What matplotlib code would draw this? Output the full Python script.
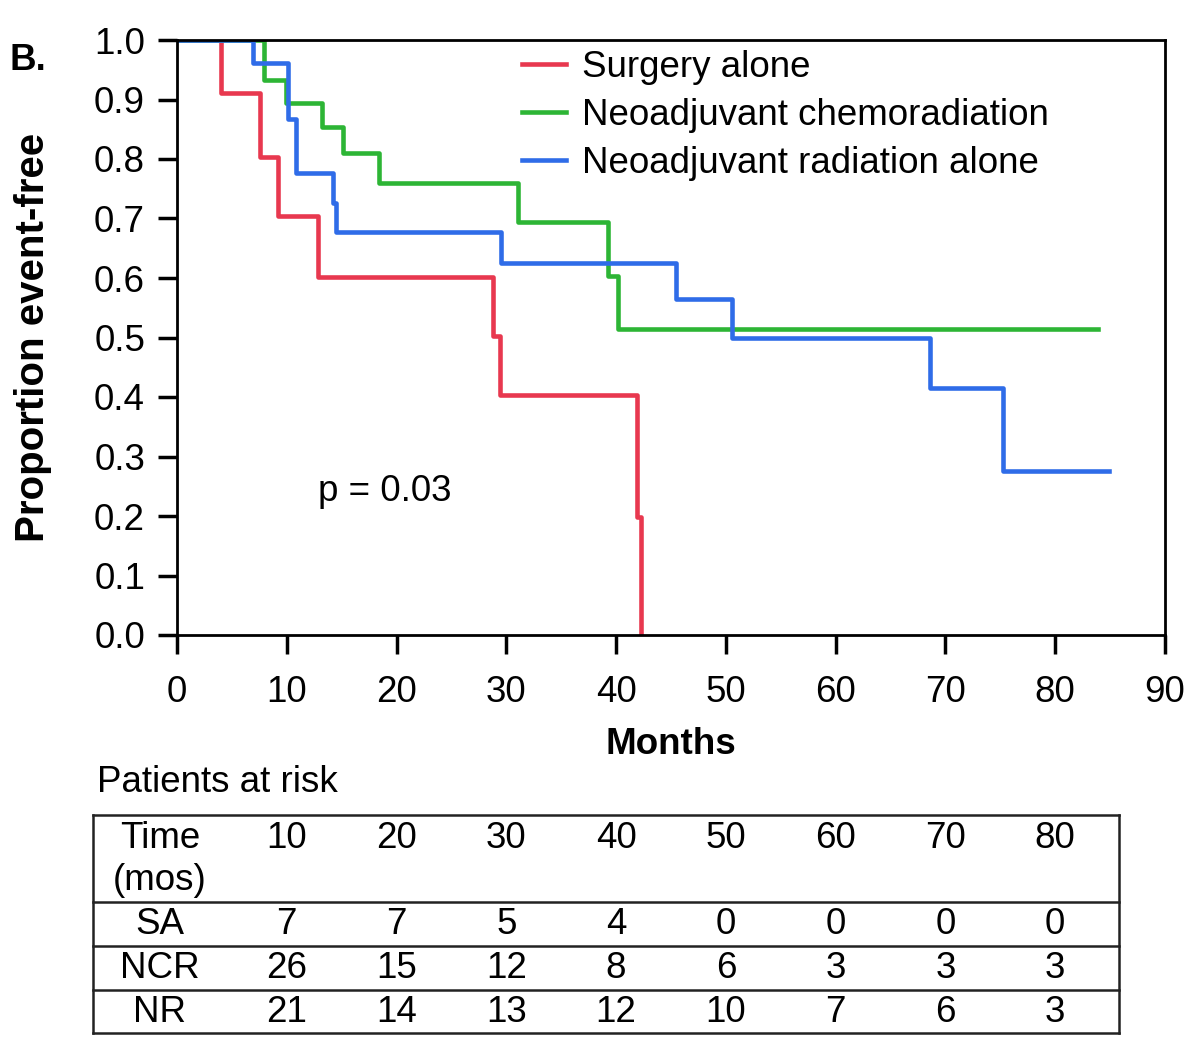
import numpy as np
import matplotlib.pyplot as plt
import matplotlib.transforms as mtransforms

plt.rcParams['font.family'] = ['Liberation Sans', 'DejaVu Sans']

# --- Kaplan-Meier steps (months, proportion event-free) ---
sa_t = [0, 4.0, 7.6, 9.2, 12.8, 28.8, 29.4, 41.9, 42.3]
sa_s = [1.0, 0.911, 0.803, 0.704, 0.602, 0.502, 0.403, 0.199, 0.0]

ncr_t = [0, 7.9, 9.9, 13.2, 15.1, 18.4, 31.1, 39.3, 40.2, 83.9]
ncr_s = [1.0, 0.933, 0.894, 0.854, 0.810, 0.760, 0.694, 0.603, 0.514, 0.514]

nr_t = [0, 6.9, 10.1, 10.8, 14.2, 14.5, 29.5, 45.5, 50.6, 68.6, 75.2, 84.9]
nr_s = [1.0, 0.962, 0.867, 0.776, 0.726, 0.677, 0.625, 0.565, 0.499, 0.415, 0.276, 0.276]

labels = ["Surgery alone", "Neoadjuvant chemoradiation", "Neoadjuvant radiation alone"]
colors = ["#e8384f", "#2db535", "#2f6ce8"]

# --- patients at risk table ---
risk_times = [10, 20, 30, 40, 50, 60, 70, 80]
risk_groups = ["SA", "NCR", "NR"]
risk_sa = [7, 7, 5, 4, 0, 0, 0, 0]
risk_ncr = [26, 15, 12, 8, 6, 3, 3, 3]
risk_nr = [21, 14, 13, 12, 10, 7, 6, 3]

W, H = 1200, 1063
fig = plt.figure(figsize=(W / 100, H / 100), dpi=100)
ax = fig.add_axes([177 / W, 1 - 635 / H, (1165 - 177) / W, (635 - 40) / H])

FS = 26.5
for t, s, c, lab in zip([sa_t, ncr_t, nr_t], [sa_s, ncr_s, nr_s], colors, labels):
    ax.step(t, s, where='post', color=c, lw=3.3, label=lab)

ax.set_xlim(0, 90)
ax.set_ylim(0, 1.0)
ax.set_xticks(np.arange(0, 91, 10))
ax.set_yticks(np.arange(0, 1.01, 0.1))
ax.yaxis.set_major_formatter(plt.FormatStrFormatter('%.1f'))
ax.tick_params(direction='out', length=14, width=2.5, labelsize=FS, pad=9)
ax.tick_params(axis='x', pad=15)
for sp in ax.spines.values():
    sp.set_linewidth(2)

ax.set_xlabel("Months", fontsize=FS, fontweight='bold', labelpad=12)
ax.set_ylabel("Proportion event-free", fontsize=29, fontweight='bold', labelpad=30)

ax.legend(loc='upper left', bbox_to_anchor=(522 / W, 1 - 50 / H),
          bbox_transform=fig.transFigure, frameon=False, fontsize=FS,
          handlelength=1.2, handletextpad=0.42, labelspacing=0.35,
          borderpad=0, borderaxespad=0)

ax.text(12.8, 0.242, "p = 0.03", fontsize=FS, ha='left', va='center')

fig.text(10 / W, 1 - 60 / H, "B.", fontsize=FS, fontweight='bold', ha='left', va='center')

# --- risk table: x in data coords of the main axes, y in figure pixels ---
tr = mtransforms.blended_transform_factory(ax.transData, fig.transFigure)

def fy(py):
    return 1 - py / H

fig.text(97 / W, fy(783), "Patients at risk", fontsize=FS, ha='left', va='center')

x_left, x_right = 93 / W, 1119 / W
for py in [815, 902, 946, 990, 1033]:
    fig.add_artist(plt.Line2D([x_left, x_right], [fy(py), fy(py)], color='#222222', lw=1.8,
                              transform=fig.transFigure))
for px in [x_left, x_right]:
    fig.add_artist(plt.Line2D([px, px], [fy(815), fy(1033)], color='#222222', lw=1.8,
                              transform=fig.transFigure))

label_x = 160 / W
fig.text(label_x, fy(838), "Time", fontsize=FS, ha='center', va='center')
fig.text(label_x, fy(880), "(mos)", fontsize=FS, ha='center', va='center')
for t in risk_times:
    ax.text(t, fy(838), str(t), transform=tr, fontsize=FS, ha='center', va='center')

row_y = [924, 968, 1012]
for name, vals, py in zip(risk_groups, [risk_sa, risk_ncr, risk_nr], row_y):
    fig.text(label_x, fy(py), name, fontsize=FS, ha='center', va='center')
    for t, v in zip(risk_times, vals):
        ax.text(t, fy(py), str(v), transform=tr, fontsize=FS, ha='center', va='center',
                clip_on=False)

fig.savefig("out.png", dpi=100)
